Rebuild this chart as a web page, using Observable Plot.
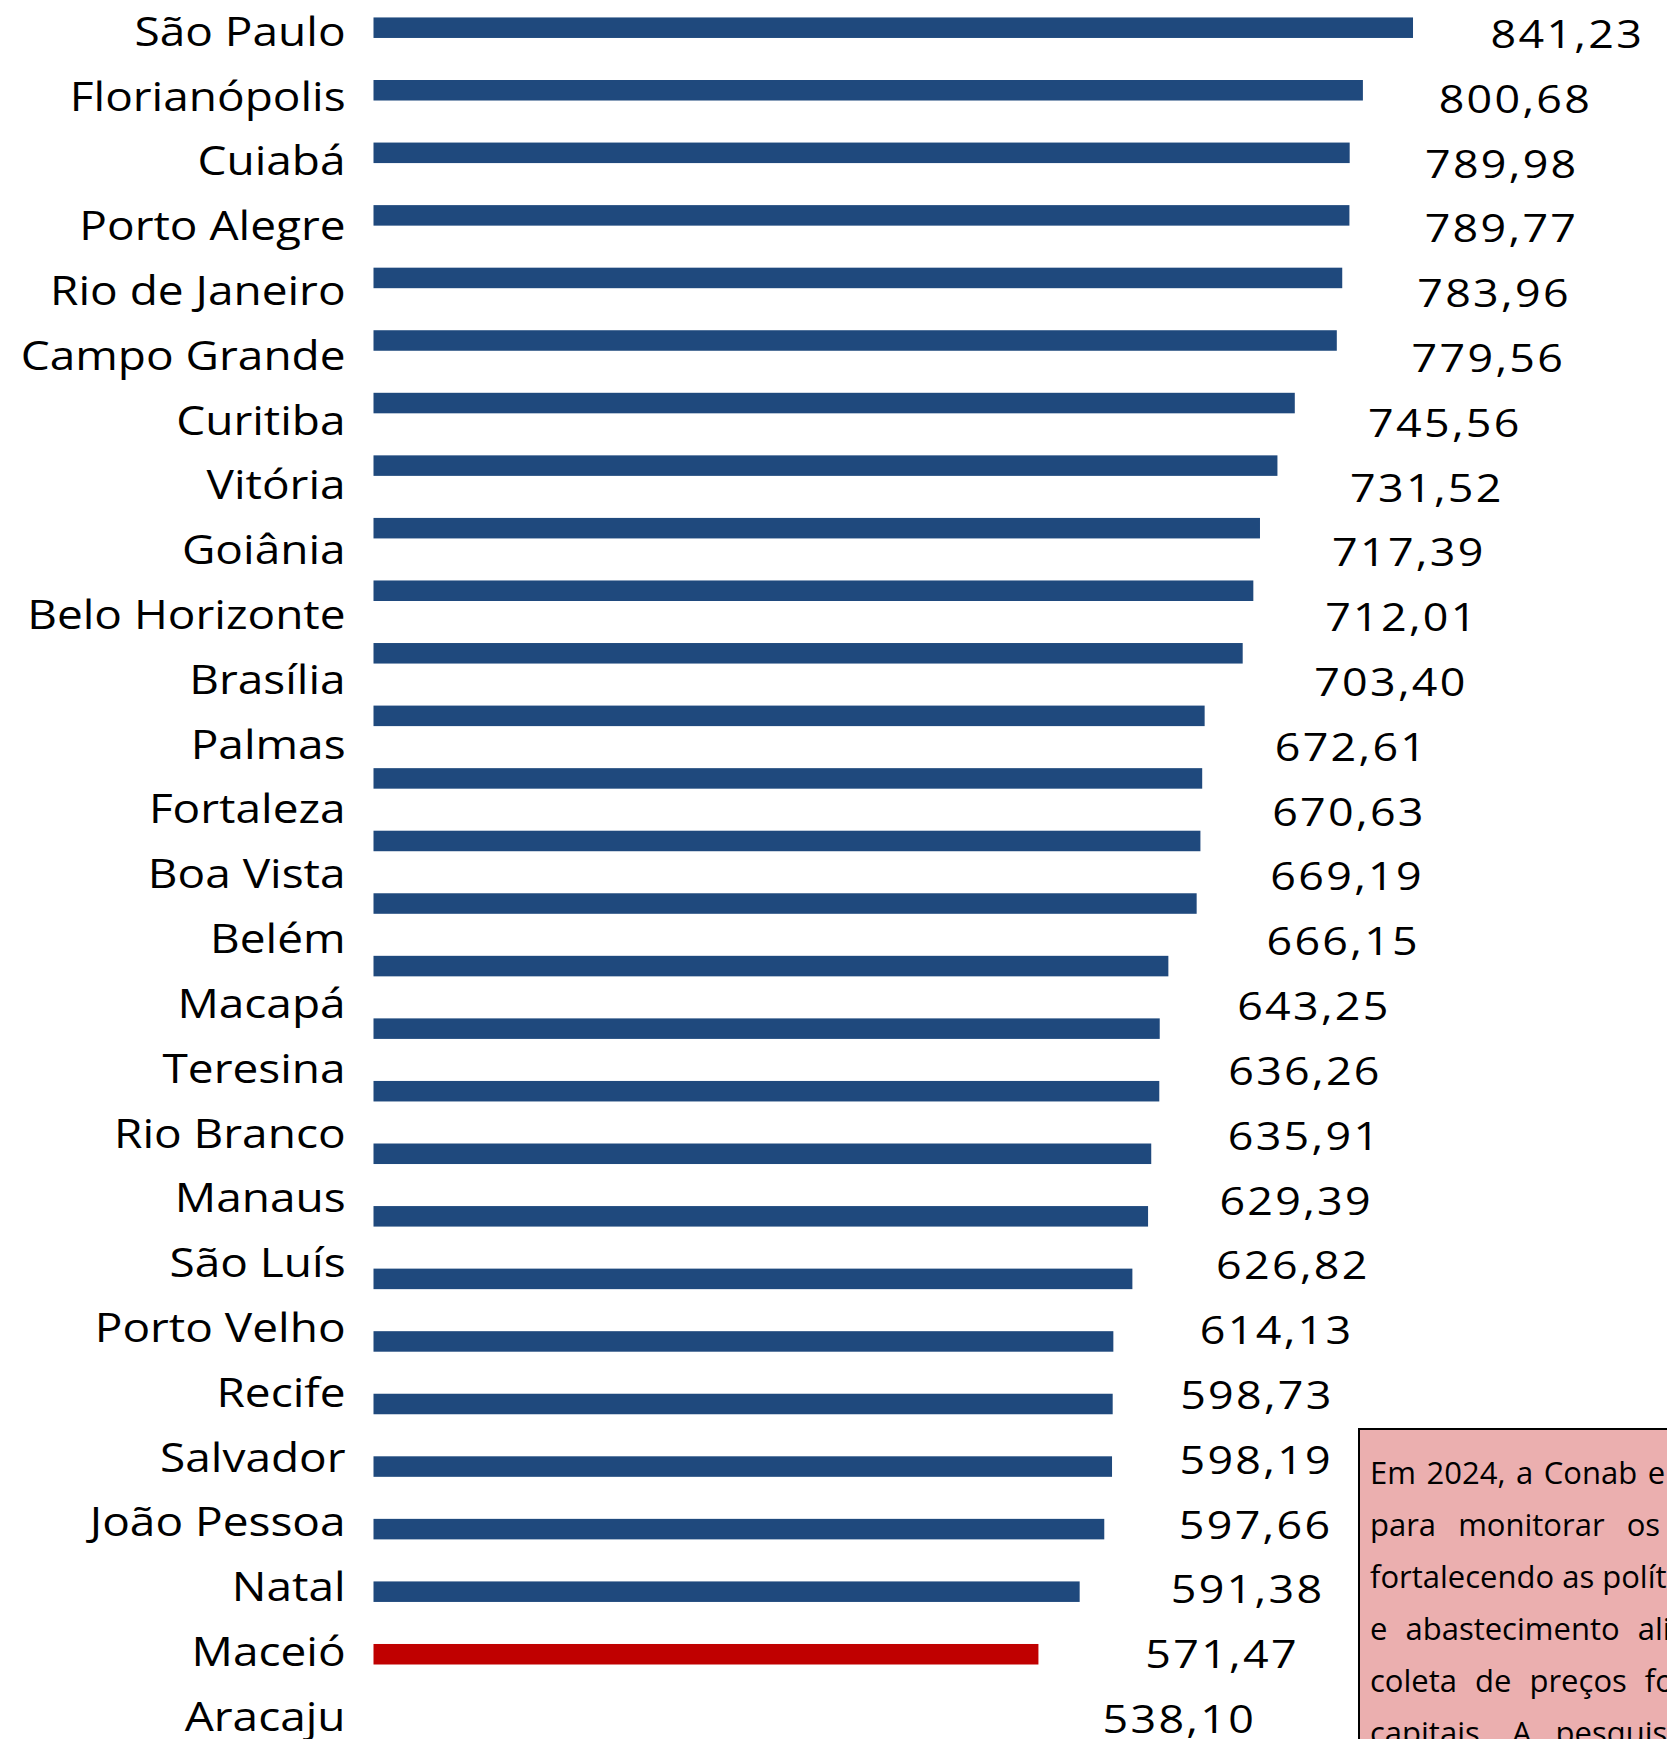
<!DOCTYPE html>
<html>
<head>
<meta charset="utf-8">
<script src="https://cdn.jsdelivr.net/npm/d3@7"></script>
<script src="https://cdn.jsdelivr.net/npm/@observablehq/plot@0.6"></script>
<style>
  html, body { margin: 0; padding: 0; overflow: hidden; background: #fff; width: 1667px; height: 1739px; }
  #stage { position: relative; width: 1667px; height: 1739px; overflow: hidden; }
  #bars, #labels { position: absolute; left: 0; top: 0; }
  #labels { transform: scaleX(1.15); transform-origin: 0 0; }
  #labels g[aria-label="text"] text { letter-spacing: 2px; }
  #note {
    position: absolute; left: 1358px; top: 1428px; width: 620px; height: 420px;
    background: #EBAFAF; border: 2.5px solid #000; box-sizing: border-box;
    padding: 16px 0 0 10px; font-family: "Open Sans", sans-serif; font-size: 31px;
    line-height: 52px; color: #000;
  }
  #note div { white-space: nowrap; }
</style>
</head>
<body>
<div id="stage">
  <div id="bars"></div>
  <div id="labels"></div>
  <div id="note"></div>
</div>
<script>
const cities = ["São Paulo", "Florianópolis", "Cuiabá", "Porto Alegre", "Rio de Janeiro", "Campo Grande",
  "Curitiba", "Vitória", "Goiânia", "Belo Horizonte", "Brasília", "Palmas", "Fortaleza", "Boa Vista",
  "Belém", "Macapá", "Teresina", "Rio Branco", "Manaus", "São Luís", "Porto Velho", "Recife", "Salvador",
  "João Pessoa", "Natal", "Maceió", "Aracaju"];
const values = [841.23, 800.68, 789.98, 789.77, 783.96, 779.56, 745.56, 731.52, 717.39, 712.01, 703.40,
  672.61, 670.63, 669.19, 666.15, 643.25, 636.26, 635.91, 629.39, 626.82, 614.13, 598.73, 598.19,
  597.66, 591.38, 571.47, 538.10];
const highlighted = ["Aracaju"];
const noteLines = [
  "Em 2024, a Conab e o MDS firmaram parceria",
  "para monitorar os preços da cesta de alimentos,",
  "fortalecendo as políticas públicas de segurança",
  "e abastecimento alimentar. A",
  "coleta de preços foi realizada nas 27",
  "capitais. A pesquisa considera os alimentos"
];
const noteWordSpacing = [2.5, 14, 0, 10, 10, 16];

const data = cities.map((city, i) => ({city, value: values[i], hi: highlighted.includes(city)}));
const fmt = v => v.toFixed(2).replace(".", ",");

// Bars chart
const barsPlot = Plot.plot({
  width: 1667,
  height: 1739,
  margin: 0,
  x: {domain: [0, 1000], range: [373.5, 1609.2], axis: null},
  y: {domain: cities, range: [17.44, 1664.5], paddingInner: 0.672, paddingOuter: 0, round: false, axis: null},
  color: {type: "identity"},
  marks: [
    Plot.barX(data, {x: "value", y: "city", fill: d => d.hi ? "#C00000" : "#1F497D"})
  ]
});
document.getElementById("bars").appendChild(barsPlot);

// Labels & values chart (stretched horizontally by CSS)
const k = 1.15;
const labelsPlot = Plot.plot({
  width: Math.round(1667 / k),
  height: 1739,
  marginLeft: 345 / k,
  marginTop: 0, marginBottom: 0, marginRight: 0,
  style: {background: "transparent", fontFamily: "'Open Sans', sans-serif", color: "#000", overflow: "visible"},
  x: {domain: [0, 1000], range: [413.2 / k, (413.2 + 1280) / k], axis: null},
  y: {type: "point", domain: cities, range: [35, 1720], padding: 0, round: false, axis: null},
  marks: [
    Plot.axisY({anchor: "left", tickSize: 0, tickPadding: 0, fontSize: 40, dy: -2.5, label: null}),
    Plot.text(data, {x: "value", y: "city", text: d => fmt(d.value), textAnchor: "start", fontSize: 39, fill: "#000"})
  ]
});
document.getElementById("labels").appendChild(labelsPlot);

// Note box
const note = document.getElementById("note");
noteLines.forEach((t, i) => {
  const div = document.createElement("div");
  div.textContent = t;
  div.style.wordSpacing = noteWordSpacing[i] + "px";
  note.appendChild(div);
});
</script>
</body>
</html>
